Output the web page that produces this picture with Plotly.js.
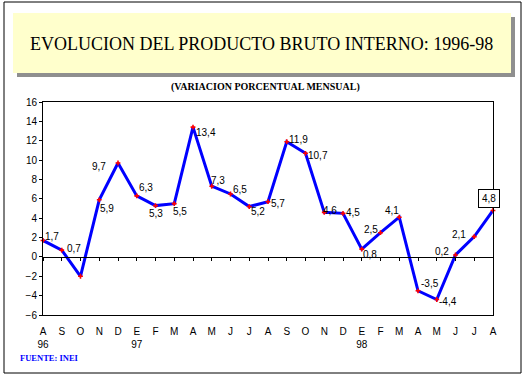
<!DOCTYPE html>
<html><head><meta charset="utf-8">
<script src="https://cdn.plot.ly/plotly-3.0.1.min.js"></script>
<style>html,body{margin:0;padding:0;background:#fff}#c{width:528px;height:377px}</style>
</head><body><div id="c"></div>
<script>
// Data
const months = ["A","S","O","N","D","E","F","M","A","M","J","J","A","S","O","N","D","E","F","M","A","M","J","J","A"];
const years  = ["96","","","","","97","","","","","","","","","","","","98","","","","","","",""];
const values = [1.7,0.7,-2.0,5.9,9.7,6.3,5.3,5.5,13.4,7.3,6.5,5.2,5.7,11.9,10.7,4.6,4.5,0.8,2.5,4.1,-3.5,-4.4,0.2,2.1,4.8];
const labels = ["1,7","0,7","","5,9","9,7","6,3","5,3","5,5","13,4","7,3","6,5","5,2","5,7","11,9","10,7","4,6","4,5","0,8","2,5","4,1","-3,5","-4,4","0,2","2,1","4,8"];
// label offsets in px (style)
const labelShift = [[9,4],[12,2],[0,0],[8,-9],[-19,-3],[9,8],[0,-8],[6,-8],[13,-5],[6,6],[9,4],[9,-5],[10,-2],[12,2],[12,-2],[6,2],[10,1],[8,-5],[-10,3],[-7,7],[12,7],[11,-2],[-14,3],[-15,2],[-4,12]];

const idx = months.map((m,i)=>i);
const tickText = months.map((m,i)=> years[i] ? m+"<br>"+years[i] : m);

const L=43, R=35, T=102, B=62, W=528, H=377;
const pw = W-L-R, ph = H-T-B;
const px = v => (v-L)/pw;
const py = v => (H-B-v)/ph;

const trace = {
  x: idx, y: values, type:'scatter', mode:'lines+markers',
  line:{color:'#0000FF', width:3},
  marker:{color:'#FF0000', symbol:'cross', size:4},
  hoverinfo:'none', cliponaxis:false
};
const tickTrace = {x: idx, y: values.map(()=>null), xaxis:'x2', yaxis:'y', type:'scatter', mode:'markers', showlegend:false};

const annotations = [];
values.forEach((v,i)=>{
  if(!labels[i]) return;
  const last = i===values.length-1;
  annotations.push({
    x: i, y: v, xref:'x', yref:'y', text: labels[i], showarrow:false,
    xanchor:'center', yanchor:'middle',
    xshift: labelShift[i][0], yshift: labelShift[i][1],
    font:{family:'Liberation Sans, Arial, sans-serif', size:10, color:'#000'},
    bordercolor: last ? '#000' : 'rgba(0,0,0,0)', borderwidth: last ? 1 : 0, borderpad: last ? 3 : 0,
    bgcolor: last ? '#fff' : 'rgba(0,0,0,0)'
  });
});
annotations.push({xref:'paper', yref:'paper', x:px(261), y:py(44), text:'EVOLUCION DEL PRODUCTO BRUTO INTERNO: 1996-98', showarrow:false,
  xanchor:'center', yanchor:'middle', font:{family:'Liberation Serif, Times New Roman, serif', size:18, color:'#000'}});
annotations.push({xref:'paper', yref:'paper', x:px(265), y:py(87), text:'<b>(VARIACION PORCENTUAL MENSUAL)</b>', showarrow:false,
  xanchor:'center', yanchor:'middle', font:{family:'Liberation Serif, Times New Roman, serif', size:10, color:'#000'}});
annotations.push({xref:'paper', yref:'paper', x:px(18), y:py(358), text:'<b>FUENTE: INEI</b>', showarrow:false,
  xanchor:'left', yanchor:'middle', font:{family:'Liberation Serif, Times New Roman, serif', size:8.5, color:'#0000FF'}});

const shapes = [
  {type:'rect', xref:'paper', yref:'paper', x0:px(4), x1:px(521), y0:py(373), y1:py(2), line:{color:'#000', width:1}, fillcolor:'rgba(0,0,0,0)', layer:'below'},
  {type:'rect', xref:'paper', yref:'paper', x0:px(17), x1:px(515), y0:py(77), y1:py(17), line:{width:0}, fillcolor:'#8f8f8f', layer:'below'},
  {type:'rect', xref:'paper', yref:'paper', x0:px(13), x1:px(511), y0:py(73), y1:py(13), line:{width:0}, fillcolor:'#FFFFCC', layer:'below'}
];

const layout = {
  width:W, height:H, margin:{l:L, r:R, t:T, b:B, pad:0},
  paper_bgcolor:'#fff', plot_bgcolor:'#fff', showlegend:false,
  xaxis:{range:[0,24], tickmode:'array', tickvals:idx, ticktext:tickText, showgrid:false, zeroline:false,
    showline:true, mirror:true, linecolor:'#000', linewidth:1, ticks:'outside', ticklen:7, tickcolor:'rgba(0,0,0,0)',
    tickfont:{family:'Liberation Sans, Arial, sans-serif', size:10, color:'#000'}, fixedrange:true},
  xaxis2:{range:[0,24], overlaying:'x', anchor:'free', position:6/22, tickmode:'array', tickvals:idx, showticklabels:false,
    showgrid:false, zeroline:false, showline:true, linecolor:'#000', linewidth:1, ticks:'outside', ticklen:3, tickcolor:'#000', side:'bottom'},
  yaxis:{range:[-6,16], dtick:2, tick0:0, showgrid:false, zeroline:false, showline:true, mirror:true, linecolor:'#000', linewidth:1,
    ticks:'outside', ticklen:3, tickcolor:'#000', tickfont:{family:'Liberation Sans, Arial, sans-serif', size:10, color:'#000'}, fixedrange:true},
  annotations, shapes
};
Plotly.newPlot('c', [tickTrace, trace], layout, {staticPlot:true, displayModeBar:false});
</script></body></html>
